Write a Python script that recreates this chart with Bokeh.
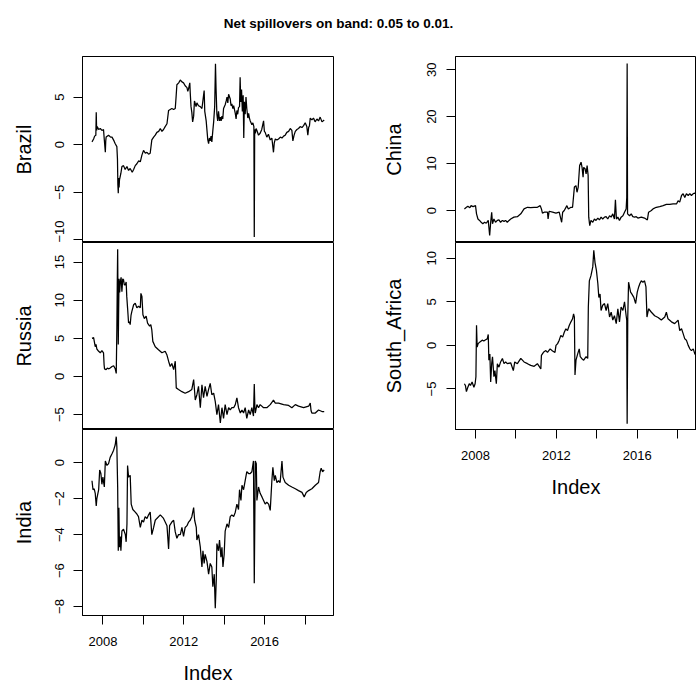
from bokeh.plotting import figure
from bokeh.models import Range1d, FixedTicker, Label
from bokeh.layouts import column, row
from bokeh.embed import file_html
from bokeh.resources import INLINE

TITLE = "Net spillovers on band: 0.05 to 0.01."
X_LABEL = "Index"
YEAR_LABELLED = [2008, 2012, 2016]
YEAR_UNLABELLED = [2010, 2014, 2018]

BRAZIL_TICKS = [-10, -5, 0, 5]
RUSSIA_TICKS = [-5, 0, 5, 10, 15]
INDIA_TICKS = [-8, -6, -4, -2, 0]
CHINA_TICKS = [0, 10, 20, 30]
SA_TICKS = [-5, 0, 5, 10]

# (decimal year, net spillover)
BRAZIL = [(2007.46, 0.3), (2007.54, 0.6), (2007.59, 0.9), (2007.65, 1.0), (2007.67, 3.4), (2007.69, 1.5), (2007.72, 1.9),
          (2007.79, 1.6), (2007.87, 1.7), (2007.95, 1.5), (2008.03, 1.6), (2008.07, 0.5), (2008.12, -0.8), (2008.14, 0.4),
          (2008.16, 0.8), (2008.28, 1.0), (2008.38, 0.8), (2008.45, 0.8), (2008.55, 0.4), (2008.61, 0.1), (2008.69, -0.2),
          (2008.72, -1.5), (2008.74, -4.2), (2008.76, -5.1), (2008.78, -3.5), (2008.80, -4.5), (2008.82, -3.7), (2008.86, -3.3),
          (2008.89, -3.0), (2008.94, -2.3), (2009.02, -2.2), (2009.10, -2.6), (2009.19, -2.3), (2009.27, -2.7), (2009.35, -2.5),
          (2009.45, -2.9), (2009.52, -2.6), (2009.60, -2.2), (2009.68, -2.0), (2009.77, -1.7), (2009.85, -1.8), (2009.93, -1.1),
          (2010.01, -0.6), (2010.10, -0.9), (2010.18, -0.8), (2010.26, -1.0), (2010.34, -0.9), (2010.42, 0.5), (2010.51, 0.8),
          (2010.59, 1.0), (2010.67, 1.3), (2010.76, 1.4), (2010.84, 1.7), (2010.92, 1.4), (2011.00, 1.6), (2011.08, 1.9),
          (2011.17, 2.2), (2011.25, 3.6), (2011.33, 3.7), (2011.41, 3.8), (2011.50, 3.7), (2011.58, 3.8), (2011.62, 5.0),
          (2011.66, 6.3), (2011.75, 6.5), (2011.83, 6.8), (2011.91, 6.6), (2011.99, 6.5), (2012.07, 6.2), (2012.16, 6.0),
          (2012.20, 5.6), (2012.24, 5.9), (2012.30, 6.5), (2012.32, 5.5), (2012.36, 4.0), (2012.40, 3.4), (2012.44, 2.4),
          (2012.49, 3.0), (2012.53, 4.6), (2012.57, 4.3), (2012.61, 4.0), (2012.65, 4.4), (2012.73, 4.1), (2012.82, 4.0),
          (2012.90, 3.8), (2012.97, 5.0), (2013.01, 5.7), (2013.04, 3.5), (2013.11, 2.5), (2013.15, 1.5), (2013.19, 0.5),
          (2013.23, 0.1), (2013.27, 0.7), (2013.31, 0.4), (2013.35, 0.9), (2013.39, 0.3), (2013.44, 1.5), (2013.48, 2.4),
          (2013.53, 4.0), (2013.57, 8.5), (2013.60, 5.8), (2013.64, 3.2), (2013.68, 2.5), (2013.72, 3.5), (2013.77, 2.5),
          (2013.81, 2.9), (2013.85, 2.5), (2013.89, 3.0), (2013.93, 2.7), (2013.97, 3.8), (2014.05, 4.2), (2014.10, 4.6),
          (2014.14, 5.0), (2014.18, 4.4), (2014.22, 5.3), (2014.30, 4.8), (2014.34, 4.1), (2014.38, 4.3), (2014.43, 3.8),
          (2014.47, 4.1), (2014.55, 3.3), (2014.59, 2.7), (2014.63, 3.6), (2014.67, 3.2), (2014.71, 3.9), (2014.76, 4.0),
          (2014.79, 7.1), (2014.82, 4.5), (2014.86, 5.8), (2014.90, 3.5), (2014.94, 5.2), (2014.97, 0.7), (2015.00, 4.5),
          (2015.04, 3.2), (2015.08, 5.0), (2015.12, 3.8), (2015.17, 2.8), (2015.21, 3.3), (2015.25, 2.8), (2015.29, 2.5),
          (2015.33, 2.3), (2015.37, 2.1), (2015.42, 2.3), (2015.47, 1.9), (2015.49, -9.7), (2015.51, 1.6), (2015.54, 1.2),
          (2015.58, 1.7), (2015.62, 1.5), (2015.70, 1.0), (2015.78, 1.2), (2015.86, 1.6), (2015.95, 2.5), (2015.99, 1.4),
          (2016.03, 1.3), (2016.11, 0.8), (2016.19, 1.1), (2016.28, 0.5), (2016.36, 0.7), (2016.44, -0.8), (2016.48, 0.2),
          (2016.53, 0.6), (2016.61, 0.5), (2016.69, 0.6), (2016.78, 0.8), (2016.86, 0.7), (2016.94, 0.9), (2017.02, 1.0),
          (2017.10, 1.3), (2017.19, 1.4), (2017.27, 1.7), (2017.35, 1.5), (2017.40, 0.4), (2017.46, 1.0), (2017.52, 1.4),
          (2017.60, 1.6), (2017.68, 1.7), (2017.76, 1.9), (2017.85, 1.8), (2017.93, 2.0), (2018.01, 2.3), (2018.09, 1.9),
          (2018.14, 1.0), (2018.18, 1.8), (2018.22, 2.0), (2018.26, 2.8), (2018.34, 2.6), (2018.42, 2.8), (2018.50, 2.4),
          (2018.59, 2.7), (2018.67, 2.5), (2018.75, 2.9), (2018.84, 2.4), (2018.95, 2.6)]

RUSSIA = [(2007.46, 5.0), (2007.54, 5.1), (2007.58, 4.5), (2007.62, 3.9), (2007.66, 4.2), (2007.70, 3.6), (2007.79, 3.3),
          (2007.87, 3.1), (2007.95, 3.4), (2008.03, 3.1), (2008.06, 1.5), (2008.08, 1.0), (2008.16, 0.9), (2008.22, 1.1),
          (2008.28, 1.0), (2008.36, 1.1), (2008.45, 1.3), (2008.53, 1.4), (2008.61, 1.0), (2008.66, 0.4), (2008.69, 6.3),
          (2008.71, 12.0), (2008.73, 16.7), (2008.74, 12.5), (2008.75, 8.0), (2008.76, 4.2), (2008.78, 9.0), (2008.80, 12.8),
          (2008.83, 11.0), (2008.86, 12.4), (2008.90, 13.0), (2008.94, 11.1), (2008.98, 12.8), (2009.02, 12.7), (2009.06, 12.0),
          (2009.11, 12.0), (2009.15, 12.4), (2009.18, 10.5), (2009.22, 9.0), (2009.27, 7.0), (2009.31, 7.2), (2009.35, 6.8),
          (2009.39, 8.0), (2009.43, 8.5), (2009.52, 9.4), (2009.60, 9.6), (2009.68, 9.0), (2009.76, 9.2), (2009.85, 9.0),
          (2009.88, 10.9), (2009.93, 10.5), (2009.98, 8.1), (2010.05, 7.6), (2010.14, 7.9), (2010.21, 7.0), (2010.31, 6.6),
          (2010.37, 6.8), (2010.42, 6.1), (2010.47, 4.6), (2010.59, 3.9), (2010.75, 3.5), (2010.92, 3.1), (2011.08, 3.3),
          (2011.17, 2.8), (2011.25, 2.0), (2011.33, 1.3), (2011.41, 1.7), (2011.50, 0.9), (2011.58, 2.0), (2011.63, -1.5),
          (2011.74, -1.7), (2011.91, -2.0), (2012.07, -2.2), (2012.24, -2.0), (2012.40, -1.7), (2012.49, -0.4), (2012.57, -3.1),
          (2012.65, -2.4), (2012.73, -1.3), (2012.82, -4.1), (2012.90, -1.1), (2012.98, -2.8), (2013.06, -1.3), (2013.15, -2.6),
          (2013.23, -1.7), (2013.31, -0.9), (2013.39, -2.4), (2013.48, -2.2), (2013.56, -3.3), (2013.64, -5.0), (2013.72, -3.7),
          (2013.81, -6.1), (2013.89, -4.1), (2013.97, -5.5), (2014.05, -3.7), (2014.14, -5.0), (2014.22, -4.1), (2014.30, -4.4),
          (2014.38, -4.1), (2014.47, -4.1), (2014.55, -3.7), (2014.63, -2.8), (2014.71, -4.1), (2014.80, -4.8), (2014.88, -4.4),
          (2014.96, -4.8), (2015.04, -4.1), (2015.12, -5.5), (2015.21, -4.4), (2015.29, -5.0), (2015.37, -4.1), (2015.45, -5.2),
          (2015.49, -1.0), (2015.52, -4.1), (2015.54, -4.8), (2015.62, -3.7), (2015.70, -4.1), (2015.78, -3.7), (2015.95, -4.1),
          (2016.11, -4.1), (2016.28, -3.7), (2016.44, -3.1), (2016.53, -3.5), (2016.69, -3.5), (2016.94, -3.7), (2017.19, -3.8),
          (2017.35, -4.1), (2017.52, -3.7), (2017.68, -3.9), (2017.93, -4.1), (2018.18, -3.9), (2018.26, -3.5), (2018.30, -4.5),
          (2018.34, -4.8), (2018.51, -4.8), (2018.67, -4.4), (2018.84, -4.6), (2018.95, -4.6)]

INDIA = [(2007.46, -1.0), (2007.51, -1.5), (2007.57, -1.45), (2007.62, -1.7), (2007.67, -2.4), (2007.70, -2.0),
         (2007.79, -1.5), (2007.84, -0.4), (2007.90, -0.6), (2007.95, -1.2), (2008.00, -0.8), (2008.07, -1.35),
         (2008.12, 0.1), (2008.20, -0.15), (2008.28, -0.05), (2008.36, 0.3), (2008.45, 0.5), (2008.53, 0.7), (2008.61, 1.0),
         (2008.66, 1.45), (2008.69, 0.9), (2008.73, -1.35), (2008.76, -4.9), (2008.79, -2.5), (2008.82, -4.7), (2008.86, -4.1),
         (2008.89, -4.9), (2008.94, -3.8), (2009.02, -3.7), (2009.11, -4.0), (2009.15, -4.4), (2009.19, -3.4), (2009.22, -0.15),
         (2009.27, -0.8), (2009.35, -0.7), (2009.40, -2.3), (2009.48, -2.6), (2009.60, -2.75), (2009.68, -2.85), (2009.76, -3.0),
         (2009.85, -3.6), (2009.93, -3.2), (2010.01, -3.3), (2010.09, -3.0), (2010.18, -3.1), (2010.26, -2.9), (2010.34, -2.75),
         (2010.42, -4.0), (2010.51, -3.6), (2010.59, -3.2), (2010.67, -3.1), (2010.84, -2.9), (2011.00, -3.1), (2011.17, -3.5),
         (2011.25, -4.8), (2011.30, -3.5), (2011.41, -3.3), (2011.50, -3.2), (2011.58, -3.85), (2011.66, -4.2), (2011.74, -4.0),
         (2011.83, -4.0), (2011.91, -3.6), (2011.99, -4.1), (2012.07, -3.6), (2012.16, -3.5), (2012.24, -3.3), (2012.32, -3.2),
         (2012.40, -3.0), (2012.49, -2.5), (2012.54, -3.2), (2012.62, -3.6), (2012.65, -4.3), (2012.73, -4.0), (2012.82, -4.7),
         (2012.90, -5.8), (2012.95, -4.9), (2013.01, -5.6), (2013.06, -5.1), (2013.15, -5.5), (2013.23, -6.2), (2013.31, -5.6),
         (2013.39, -5.8), (2013.44, -6.9), (2013.51, -6.2), (2013.56, -8.1), (2013.61, -6.5), (2013.64, -4.5), (2013.72, -4.9),
         (2013.77, -4.3), (2013.84, -5.25), (2013.89, -4.7), (2013.94, -5.8), (2014.00, -5.1), (2014.05, -3.8), (2014.14, -3.4),
         (2014.22, -3.6), (2014.30, -3.0), (2014.38, -2.9), (2014.47, -3.0), (2014.55, -2.75), (2014.63, -2.3), (2014.71, -2.6),
         (2014.76, -1.5), (2014.83, -2.1), (2014.88, -1.25), (2014.96, -1.5), (2015.04, -1.0), (2015.12, -0.5), (2015.21, -0.6),
         (2015.29, -0.6), (2015.37, -0.5), (2015.45, 0.1), (2015.49, -6.7), (2015.54, 0.1), (2015.59, -0.05), (2015.62, -2.1),
         (2015.70, -1.35), (2015.78, -1.7), (2015.87, -1.9), (2015.95, -2.1), (2016.03, -2.3), (2016.11, -2.2), (2016.20, -2.3),
         (2016.28, -2.65), (2016.36, -1.0), (2016.41, -0.25), (2016.48, -1.0), (2016.53, -0.7), (2016.61, -1.1), (2016.69, -1.0),
         (2016.77, -1.1), (2016.86, 0.1), (2016.91, -0.8), (2017.02, -1.1), (2017.19, -1.25), (2017.35, -1.35), (2017.52, -1.45),
         (2017.68, -1.55), (2017.85, -1.65), (2017.96, -1.9), (2018.06, -1.65), (2018.18, -1.55), (2018.34, -1.45),
         (2018.51, -1.25), (2018.67, -1.1), (2018.75, -0.5), (2018.80, -0.3), (2018.87, -0.5), (2018.95, -0.4)]

CHINA = [(2007.45, 0.35), (2007.55, 0.7), (2007.62, 0.9), (2007.72, 0.6), (2007.78, 1.05), (2007.88, 0.85), (2008.00, 1.05),
         (2008.05, -0.7), (2008.12, -1.8), (2008.20, -2.1), (2008.28, -2.5), (2008.36, -2.8), (2008.45, -2.5), (2008.53, -2.7),
         (2008.63, -2.1), (2008.70, -5.3), (2008.75, -2.5), (2008.80, -0.35), (2008.84, -2.8), (2008.91, -1.8), (2008.99, -2.5),
         (2009.08, -2.1), (2009.16, -2.0), (2009.24, -2.5), (2009.33, -2.1), (2009.41, -2.3), (2009.49, -2.1), (2009.57, -2.5),
         (2009.66, -2.1), (2009.74, -1.8), (2009.90, -1.4), (2010.07, -1.3), (2010.24, -0.7), (2010.40, 0.35), (2010.57, 0.7),
         (2010.73, 0.6), (2010.90, 0.7), (2011.06, 0.7), (2011.20, 1.05), (2011.26, 0.35), (2011.31, -0.55), (2011.40, -0.35),
         (2011.56, -0.35), (2011.59, -1.8), (2011.64, -0.15), (2011.81, -0.35), (2011.98, -0.55), (2012.14, -0.35),
         (2012.26, -2.5), (2012.31, -0.35), (2012.39, 0.0), (2012.52, 1.05), (2012.59, 0.35), (2012.72, 0.7), (2012.80, 0.7),
         (2012.89, 5.0), (2012.97, 5.3), (2013.02, 3.9), (2013.08, 5.0), (2013.15, 9.6), (2013.22, 10.3), (2013.27, 9.2),
         (2013.32, 7.1), (2013.35, 9.2), (2013.42, 8.9), (2013.47, 7.8), (2013.52, 9.6), (2013.57, 7.5), (2013.60, -1.4),
         (2013.65, -3.2), (2013.71, -2.1), (2013.80, -2.5), (2013.88, -1.8), (2013.96, -2.1), (2014.05, -1.6), (2014.13, -2.0),
         (2014.21, -1.4), (2014.29, -1.8), (2014.38, -1.4), (2014.46, -1.3), (2014.54, -1.8), (2014.63, -1.1), (2014.71, -1.4),
         (2014.79, -0.7), (2014.87, -1.8), (2014.92, 2.3), (2014.97, -1.8), (2015.04, -1.4), (2015.12, -2.1), (2015.20, -1.4),
         (2015.29, -1.1), (2015.37, -0.35), (2015.45, 0.35), (2015.48, 2.8), (2015.50, 31.3), (2015.52, -0.7), (2015.62, -1.1),
         (2015.70, -0.7), (2015.78, -1.3), (2015.87, -1.4), (2015.95, -1.3), (2016.03, -1.6), (2016.20, -1.4), (2016.36, -1.6),
         (2016.50, -2.0), (2016.56, -0.35), (2016.70, 0.0), (2016.78, 0.35), (2016.94, 0.7), (2017.11, 0.85), (2017.28, 1.05),
         (2017.44, 1.3), (2017.61, 1.3), (2017.77, 1.4), (2017.94, 1.4), (2018.02, 2.1), (2018.10, 1.8), (2018.19, 3.2),
         (2018.27, 3.6), (2018.35, 2.8), (2018.43, 3.6), (2018.52, 3.2), (2018.60, 3.6), (2018.68, 3.2), (2018.77, 3.6),
         (2018.85, 3.7), (2018.95, 3.5)]

SOUTH_AFRICA = [(2007.45, -4.4), (2007.50, -4.6), (2007.55, -5.3), (2007.62, -4.8), (2007.69, -4.4), (2007.75, -4.6),
                (2007.83, -4.2), (2007.92, -4.8), (2007.98, -4.4), (2008.02, -3.6), (2008.05, 2.3), (2008.08, -0.2),
                (2008.13, 0.2), (2008.22, 0.4), (2008.33, 0.6), (2008.41, 0.5), (2008.50, 0.65), (2008.58, 0.75),
                (2008.63, 1.25), (2008.66, -1.7), (2008.71, -1.0), (2008.75, -4.2), (2008.80, -2.1), (2008.84, -1.3),
                (2008.91, -3.6), (2008.96, -2.9), (2009.03, -4.4), (2009.08, -2.1), (2009.16, -2.5), (2009.24, -1.9),
                (2009.33, -1.5), (2009.41, -2.1), (2009.49, -1.9), (2009.57, -2.1), (2009.74, -2.0), (2009.87, -2.9),
                (2009.94, -1.9), (2010.07, -2.1), (2010.24, -1.5), (2010.40, -1.9), (2010.57, -2.1), (2010.73, -2.3),
                (2010.90, -2.4), (2011.06, -2.1), (2011.23, -2.7), (2011.26, -1.15), (2011.36, -0.8), (2011.48, -0.6),
                (2011.56, -0.8), (2011.69, -0.4), (2011.81, -0.65), (2011.93, -0.8), (2011.98, 0.0), (2012.06, 0.2),
                (2012.14, 0.6), (2012.22, 1.15), (2012.31, 0.95), (2012.39, 1.5), (2012.47, 1.9), (2012.55, 1.7),
                (2012.64, 2.3), (2012.72, 2.7), (2012.80, 3.05), (2012.85, 3.6), (2012.89, 3.25), (2012.92, -3.4),
                (2012.97, -1.7), (2013.05, -1.0), (2013.13, -0.4), (2013.18, -1.3), (2013.25, -1.5), (2013.35, -1.7),
                (2013.47, -1.3), (2013.55, -1.5), (2013.58, 4.4), (2013.63, 7.4), (2013.71, 8.0), (2013.80, 9.0),
                (2013.85, 10.9), (2013.91, 9.5), (2013.98, 8.6), (2014.05, 7.1), (2014.10, 5.5), (2014.16, 5.9),
                (2014.21, 4.0), (2014.29, 4.6), (2014.38, 4.8), (2014.46, 4.0), (2014.54, 4.8), (2014.63, 3.25),
                (2014.71, 3.8), (2014.79, 2.9), (2014.87, 3.4), (2014.96, 2.5), (2015.04, 4.2), (2015.12, 2.7),
                (2015.20, 4.4), (2015.29, 4.0), (2015.37, 5.0), (2015.45, 3.4), (2015.48, 2.9), (2015.50, -9.0),
                (2015.53, 3.25), (2015.57, 7.25), (2015.67, 6.1), (2015.73, 5.9), (2015.83, 5.5), (2015.92, 4.8),
                (2016.00, 6.1), (2016.07, 6.7), (2016.13, 7.1), (2016.20, 7.4), (2016.28, 7.25), (2016.36, 7.4),
                (2016.43, 6.7), (2016.48, 3.25), (2016.56, 4.2), (2016.70, 3.8), (2016.86, 3.4), (2017.03, 3.2),
                (2017.19, 2.9), (2017.36, 3.25), (2017.44, 3.8), (2017.52, 3.05), (2017.69, 2.7), (2017.85, 2.5),
                (2018.02, 2.9), (2018.10, 1.7), (2018.19, 1.9), (2018.27, 1.35), (2018.35, 0.75), (2018.43, 0.6),
                (2018.52, 0.0), (2018.60, -0.4), (2018.68, -0.6), (2018.77, -0.4), (2018.85, -1.0), (2018.93, -1.15)]

FONT = "Liberation Sans"
TICK_PX = "13px"
LAB_PX = "20px"


def style_axis(ax):
    ax.axis_line_color = "black"
    ax.major_tick_line_color = "black"
    ax.minor_tick_line_color = "black"
    ax.major_tick_in = 0
    ax.major_tick_out = 9
    ax.minor_tick_in = 0
    ax.minor_tick_out = 9
    ax.major_label_text_font = FONT
    ax.major_label_text_font_size = TICK_PX
    ax.major_label_text_color = "black"
    ax.axis_label_text_font = FONT
    ax.axis_label_text_font_size = LAB_PX
    ax.axis_label_text_font_style = "normal"
    ax.axis_label_text_color = "black"


def panel(name, series, yticks, ylim, xlim, width, height, left, right, bottom, with_x,
          ystand=9, ylabstand=18):
    p = figure(width=width, height=height, x_range=Range1d(*xlim), y_range=Range1d(*ylim),
               output_backend="svg", toolbar_location=None,
               x_axis_location="below" if with_x else None,
               min_border_left=left, min_border_right=right, min_border_top=0, min_border_bottom=bottom,
               background_fill_color="white", border_fill_color="white")
    p.grid.visible = False
    p.outline_line_color = "black"
    p.outline_line_width = 1
    p.line([d[0] for d in series], [d[1] for d in series], line_color="black", line_width=1.25)
    for ax in p.yaxis:
        style_axis(ax)
        ax.ticker = FixedTicker(ticks=yticks)
        ax.axis_label = name
        ax.major_label_orientation = "vertical"
        ax.major_label_standoff = ystand
        ax.axis_label_standoff = ylabstand
    if with_x:
        for ax in p.xaxis:
            style_axis(ax)
            ax.ticker = FixedTicker(ticks=YEAR_LABELLED, minor_ticks=YEAR_UNLABELLED)
            ax.axis_label = X_LABEL
            ax.major_label_standoff = 12
            ax.axis_label_standoff = 13
    return p


LEFT_X = (2006.99, 2019.41)
RIGHT_X = (2007.01, 2018.93)

LW, RW = 375, 321
br = panel("Brazil", BRAZIL, BRAZIL_TICKS, (-10.28, 9.27), LEFT_X, LW, 186, 82, 42, 0, False)
ru = panel("Russia", RUSSIA, RUSSIA_TICKS, (-6.96, 17.57), LEFT_X, LW, 187, 82, 42, 0, False)
inn = panel("India", INDIA, INDIA_TICKS, (-8.5, 1.85), LEFT_X, LW, 257, 82, 42, 71, True)
ch = panel("China", CHINA, CHINA_TICKS, (-6.8, 32.8), RIGHT_X, RW, 186, 80, 0, 0, False, 10, 20)
sa = panel("South_Africa", SOUTH_AFRICA, SA_TICKS, (-9.65, 11.8), RIGHT_X, RW, 258, 80, 0, 71, True, 10, 20)

tf = figure(width=LW + RW, height=56, x_range=Range1d(0, LW + RW), y_range=Range1d(0, 56),
            output_backend="svg", toolbar_location=None, x_axis_location=None, y_axis_location=None,
            min_border_left=0, min_border_right=0, min_border_top=0, min_border_bottom=0)
tf.grid.visible = False
tf.outline_line_color = None
tf.add_layout(Label(x=338, y=32.7, text=TITLE, text_align="center", text_baseline="alphabetic",
                    text_font=FONT, text_font_size="13.5px", text_font_style="bold", text_color="black"))

layout = column(tf, row(column(br, ru, inn), column(ch, sa)))

with open("out.html", "w") as f:
    f.write(file_html(layout, INLINE))
